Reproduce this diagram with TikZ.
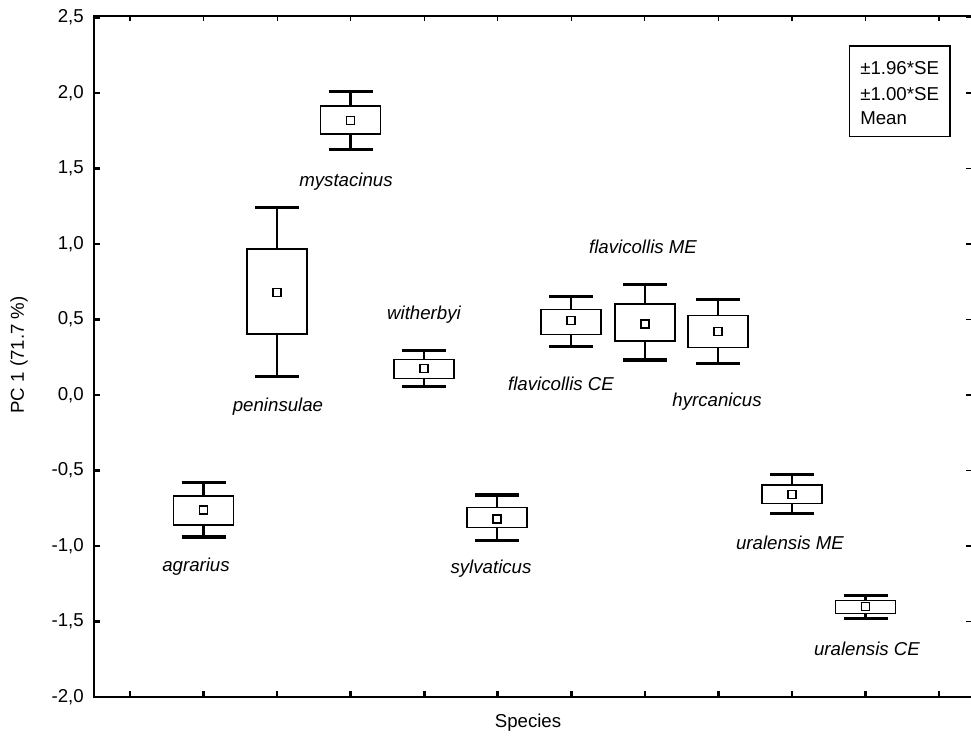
\documentclass[tikz,border=0pt]{standalone}
\usepackage{fontspec}
\setmainfont{Liberation Sans}
\tikzset{
  stemline/.style={line width=1.8pt},
  capline/.style={line width=2.6pt},
  boxline/.style={line width=1.1pt, fill=white},
  meanbox/.style={line width=1pt, fill=white},
  axisthick/.style={line width=2.2pt},
  axisthin/.style={line width=0.8pt},
  ticklab/.style={anchor=east, inner sep=0pt},
  splabel/.style={font=\fontsize{14}{16}\selectfont\itshape, inner sep=0pt},
}
\newcommand\bxplot[7]{%
  \draw[stemline] (#1,#2) -- (#1,#3);
  \draw[stemline] (#1,#5) -- (#1,#6);
  \draw[capline] (#1-22,#2) -- (#1+22,#2);
  \draw[capline] (#1-22,#6) -- (#1+22,#6);
  \draw[boxline] (#1-30,#3) rectangle (#1+30,#5);
  \draw[meanbox] (#1-4,#4-4) rectangle (#1+4,#4+4);
  \coordinate (#7) at (#1,#4);
}
\begin{document}
\begin{tikzpicture}[x=0.75pt,y=-0.75pt, font=\fontsize{14}{16}\selectfont]
\useasboundingbox (0,0) rectangle (971,737);
% frame
\draw[axisthin] (94,16) -- (975,16);
\draw[axisthick] (94,15) -- (94,697) -- (975,697);
% x ticks
\foreach \i in {0,...,11} {
  \pgfmathsetmacro{\xx}{130+73.55*\i}
  \draw[line width=2pt] (\xx,697) -- (\xx,691);
  \draw[line width=0.9pt] (\xx,16) -- (\xx,21);
}
% y ticks and labels
\foreach \v/\t in {2.5/{2,5},2.0/{2,0},1.5/{1,5},1.0/{1,0},0.5/{0,5},0.0/{0,0},-0.5/{-0,5},-1.0/{-1,0},-1.5/{-1,5},-2.0/{-2,0}} {
  \pgfmathsetmacro{\yy}{395-151*\v}
  \draw[line width=2pt] (94,\yy) -- (100,\yy);
  \draw[line width=0.9pt] (966,\yy) -- (971,\yy);
  \node[ticklab] at (84,\yy) {\t};
}
% axis titles
\node[rotate=90, inner sep=0pt] (ytitle) at (19,355) {PC 1 (71.7 \%)};
\node[inner sep=0pt] (xtitle) at (528,723) {Species};
% box plots
\bxplot{203.5}{482.7}{496}{510}{525}{537}{agr}
\bxplot{277}{207.7}{249}{292.7}{334}{376.7}{pen}
\bxplot{350.5}{91.7}{106}{120.7}{134}{149.3}{mys}
\bxplot{424}{350.7}{359.3}{368.3}{378.3}{386.7}{wit}
\bxplot{497}{495}{507.3}{519}{527.7}{540.7}{syl}
\bxplot{571}{296.7}{309.3}{320.7}{334.3}{346.7}{fce}
\bxplot{645}{284.3}{304}{324}{341}{360}{fme}
\bxplot{718}{299.3}{315.7}{331.7}{347.7}{363.3}{hyr}
\bxplot{792}{474.5}{485}{494.5}{503.5}{513.5}{ume}
\bxplot{865.5}{595.7}{600.7}{606.7}{613.3}{618.3}{uce}
% species labels
\node[splabel] (lagr) at (196,567) {agrarius};
\node[splabel] (lpen) at (278,407) {peninsulae};
\node[splabel] (lmys) at (346,182) {mystacinus};
\node[splabel] (lwit) at (424,315) {witherbyi};
\node[splabel] (lsyl) at (491,569) {sylvaticus};
\node[splabel] (lfce) at (561,384) {flavicollis CE};
\node[splabel] (lfme) at (643,247) {flavicollis ME};
\node[splabel] (lhyr) at (717,402) {hyrcanicus};
\node[splabel] (lume) at (790,543) {uralensis ME};
\node[splabel] (luce) at (867,649) {uralensis CE};
% legend
\draw[line width=0.9pt] (849.5,46) rectangle (950,136.5);
\node[anchor=west, inner sep=0pt] (leg1) at (860,68.5) {±1.96*SE};
\node[anchor=west, inner sep=0pt] (leg2) at (860,94) {±1.00*SE};
\node[anchor=west, inner sep=0pt] (leg3) at (860,118.5) {Mean};
\end{tikzpicture}
\end{document}
